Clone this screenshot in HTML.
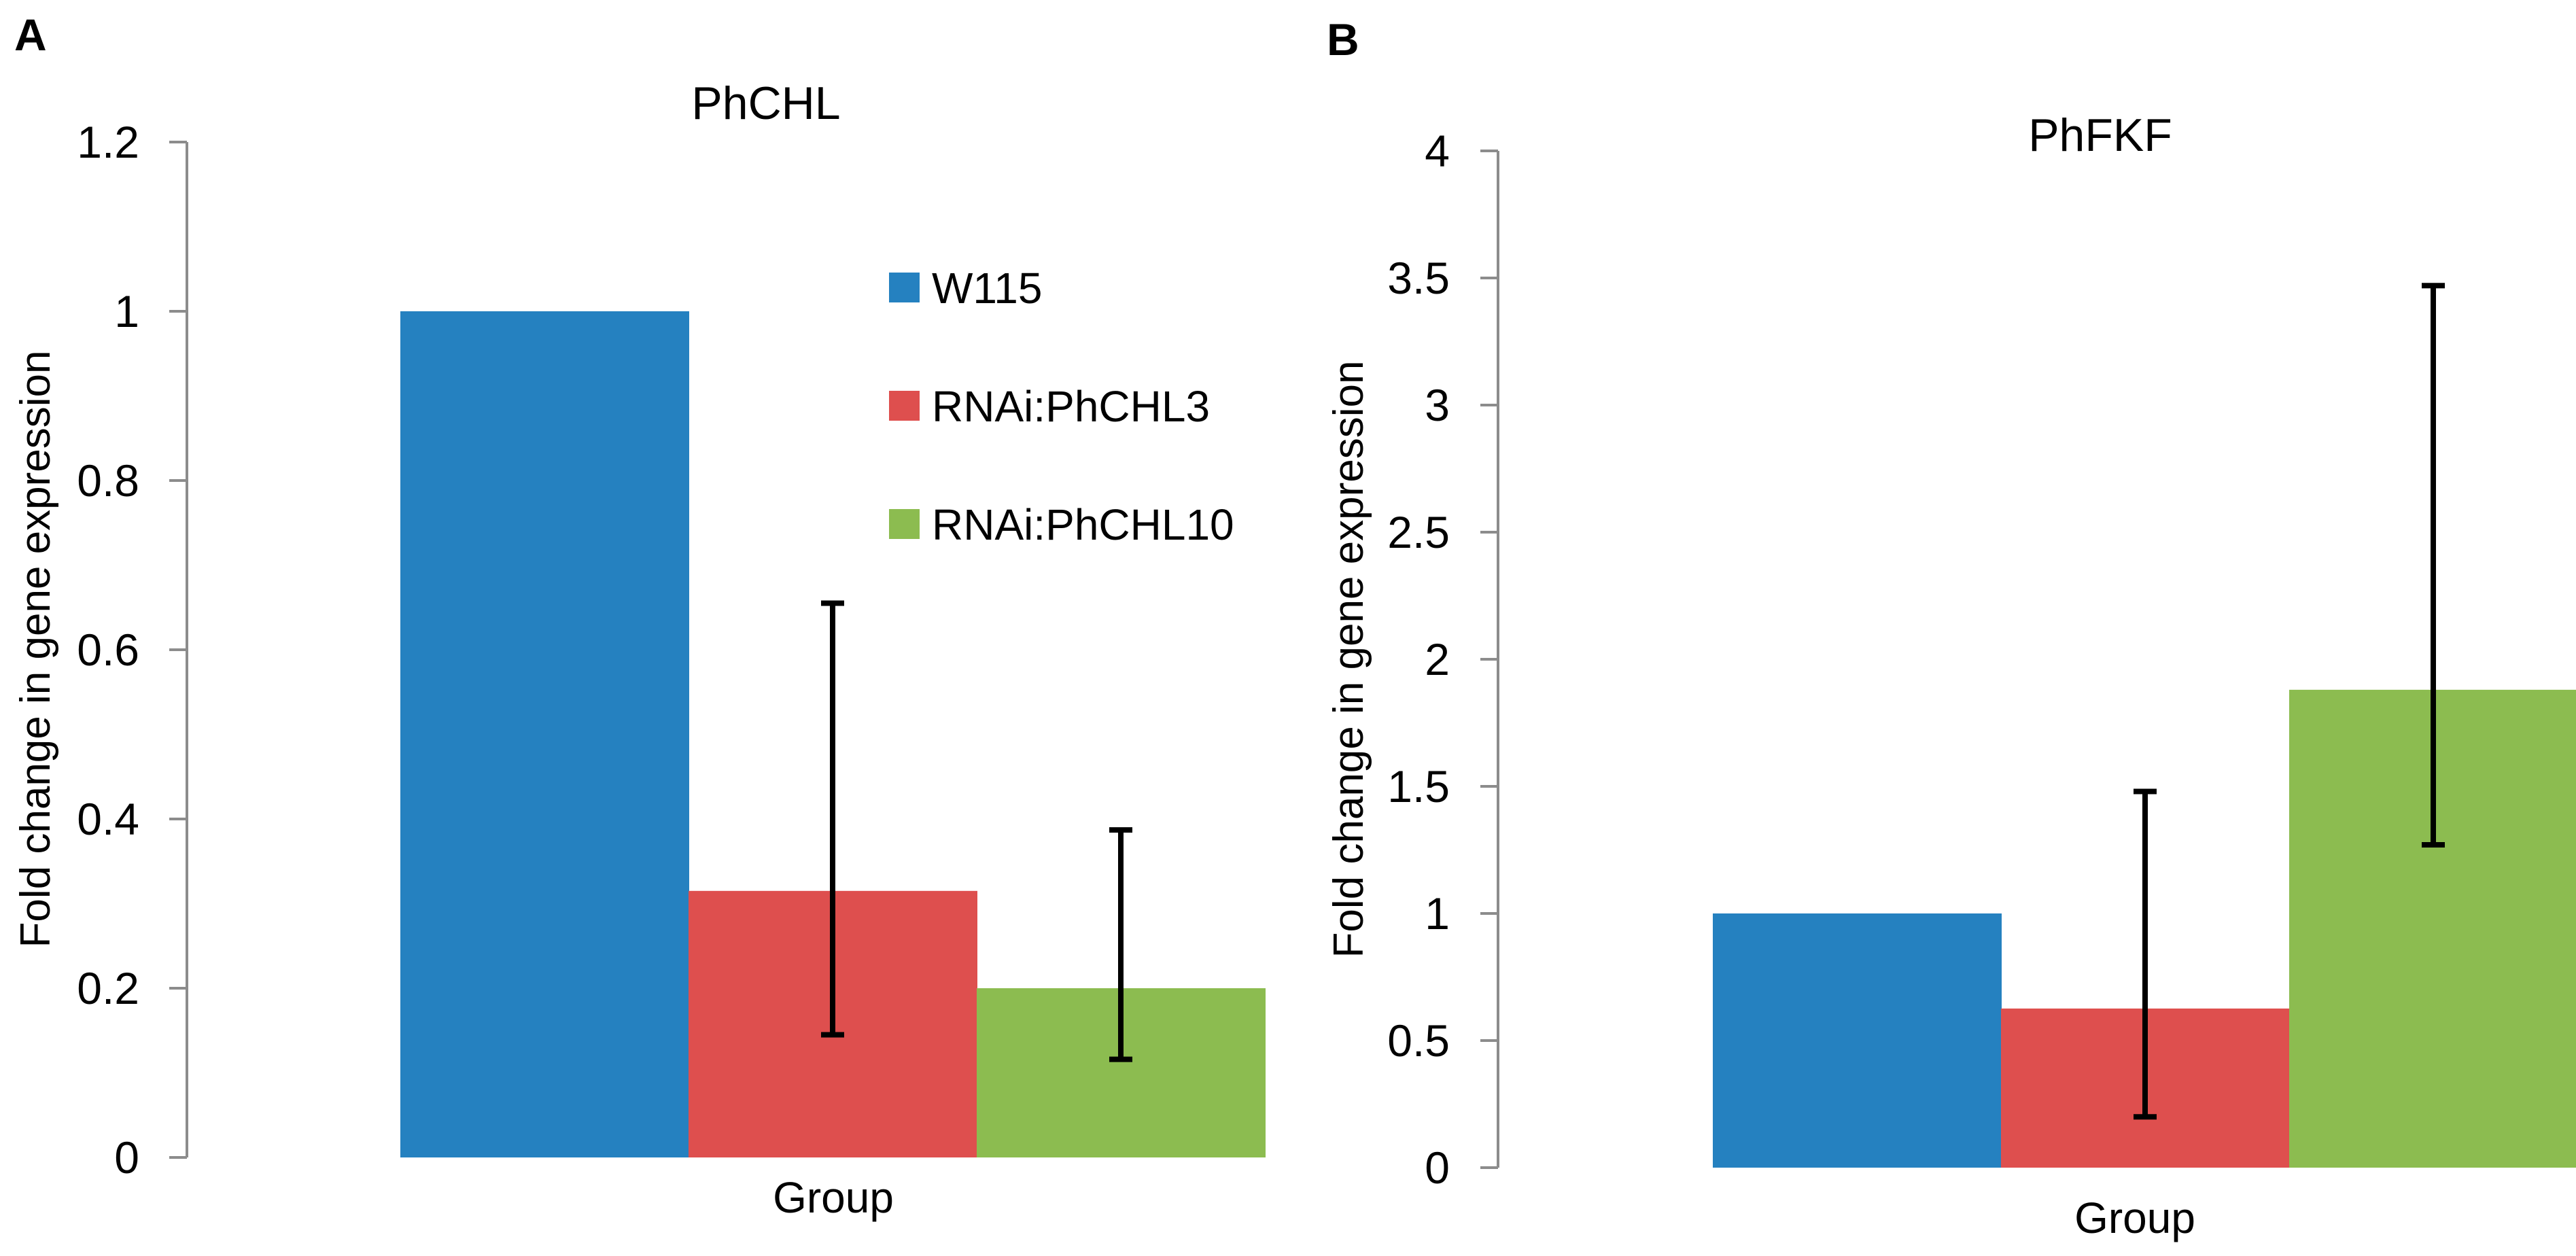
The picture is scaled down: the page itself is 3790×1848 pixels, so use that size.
<!DOCTYPE html>
<html><head><meta charset="utf-8"><style>
html,body{margin:0;padding:0;background:#fff;}
svg{display:block;font-family:"Liberation Sans",sans-serif;}
</style></head><body>
<svg id="chart" width="3790" height="1848" viewBox="0 0 3790 1848" xmlns="http://www.w3.org/2000/svg"></svg>
<script>
const series = ["W115","RNAi:PhCHL3","RNAi:PhCHL10"];
const colors = ["#2581c0","#de4f4e","#8cbc50"];
const aValues = [1, 0.315, 0.2];
const aErrHigh = [null, 0.655, 0.387];
const aErrLow = [null, 0.145, 0.116];
const aTicks = [0,0.2,0.4,0.6,0.8,1,1.2];
const aTickLabels = ["0","0.2","0.4","0.6","0.8","1","1.2"];
const bValues = [1, 0.626, 1.88];
const bErrHigh = [null, 1.48, 3.47];
const bErrLow = [null, 0.2, 1.27];
const bTicks = [0,0.5,1,1.5,2,2.5,3,3.5,4];
const bTickLabels = ["0","0.5","1","1.5","2","2.5","3","3.5","4"];

const svg = document.getElementById('chart');
const NS = "http://www.w3.org/2000/svg";
function mk(tag, attrs, text){
  const e = document.createElementNS(NS, tag);
  for (const k in attrs) e.setAttribute(k, attrs[k]);
  if (text !== undefined) e.textContent = text;
  svg.appendChild(e);
  return e;
}
function panel(p){
  const y = v => p.y0 - (v - 0) / p.max * (p.y0 - p.yTop);
  const axis = mk('line',{x1:p.ax,y1:p.yTop,x2:p.ax,y2:p.y0,stroke:'#8c8c8c','stroke-width':4});
  
  
  p.ticks.forEach((t,i)=>{
    const tk = mk('line',{x1:p.ax-26,y1:y(t),x2:p.ax,y2:y(t),stroke:'#8c8c8c','stroke-width':4});
    
    
    const tl = mk('text',{x:p.labelRight,y:y(t)+23,'text-anchor':'end','font-size':66,fill:'#000'}, p.tickLabels[i]);
    
    
  });
  p.values.forEach((v,i)=>{
    const x0 = p.barLeft + i*p.barW;
    const r = mk('rect',{x:x0,y:y(v),width:p.barW+1,height:p.y0-y(v),fill:colors[i]});
    
    
  });
  p.values.forEach((v,i)=>{
    if (p.errHigh[i] === null) return;
    const cx = p.barLeft + i*p.barW + p.barW/2;
    const g = mk('path',{d:`M${cx},${y(p.errHigh[i])}V${y(p.errLow[i])}M${cx-17},${y(p.errHigh[i])}H${cx+17}M${cx-17},${y(p.errLow[i])}H${cx+17}`,stroke:'#000','stroke-width':8,fill:'none'});
    
    
  });
}
panel({id:'a',ax:275,y0:1703,yTop:209,max:1.2,ticks:aTicks,tickLabels:aTickLabels,labelRight:205,values:aValues,errHigh:aErrHigh,errLow:aErrLow,barLeft:589,barW:424});
panel({id:'b',ax:2204,y0:1718,yTop:222,max:4,ticks:bTicks,tickLabels:bTickLabels,labelRight:2133,values:bValues,errHigh:bErrHigh,errLow:bErrLow,barLeft:2520,barW:424});

let t;
t = mk('text',{x:21,y:74,'font-size':66,'font-weight':'bold'},'A');


t = mk('text',{x:1952,y:81,'font-size':66,'font-weight':'bold'},'B');


t = mk('text',{x:1127,y:175,'font-size':68,'text-anchor':'middle'},'PhCHL');


t = mk('text',{x:3090,y:222,'font-size':68,'text-anchor':'middle'},'PhFKF');


t = mk('text',{x:1226,y:1784,'font-size':64,'text-anchor':'middle'},'Group');


t = mk('text',{x:3141,y:1814,'font-size':64,'text-anchor':'middle'},'Group');


t = mk('text',{x:0,y:0,'font-size':62,'text-anchor':'middle',transform:'translate(73,955) rotate(-90)'},'Fold change in gene expression');


t = mk('text',{x:0,y:0,'font-size':62,'text-anchor':'middle',transform:'translate(2005,970) rotate(-90)'},'Fold change in gene expression');



const legendY = [423,597,771];
series.forEach((s,i)=>{
  const sw = mk('rect',{x:1308,y:legendY[i]-22,width:45,height:44,fill:colors[i]});
  
  
  const lt = mk('text',{x:1371,y:legendY[i]+23,'font-size':64},s);
  
  
});
</script>
</body></html>
